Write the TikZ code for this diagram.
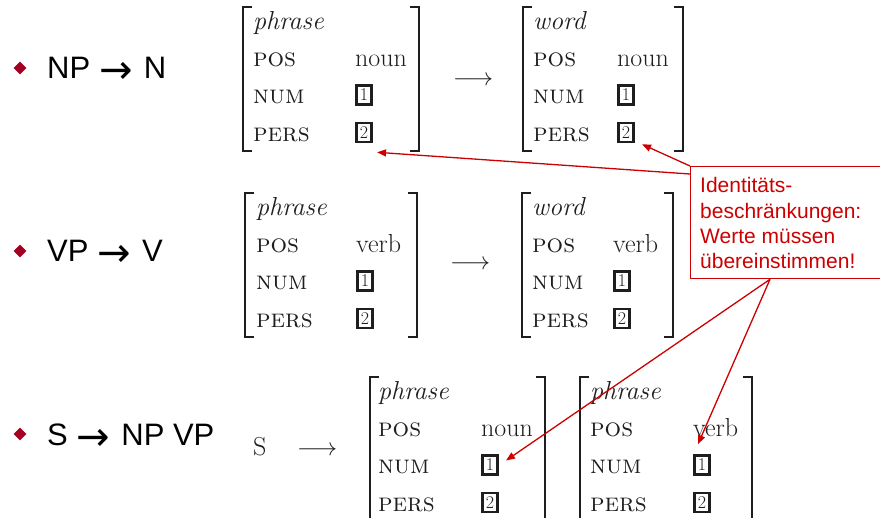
\documentclass[tikz,border=0pt]{standalone}
\usepackage{fontspec}
\newfontfamily\arialf{Liberation Sans}
\newfontfamily\dejavuf{DejaVu Sans}
\usetikzlibrary{arrows.meta,shapes.geometric}
\definecolor{bulred}{HTML}{A50021}
\definecolor{calred}{HTML}{CC0000}
\definecolor{brkgray}{HTML}{1E1E1E}
\newcommand{\avmat}[8]{%
 \draw[brk] (#2+9,#4) -- (#2,#4) -- (#2,#4+144) -- (#2+9,#4+144);
 \draw[brk] (#3-9,#4) -- (#3,#4) -- (#3,#4+144) -- (#3-9,#4+144);
 \node[avmt] (#1-type) at (#5,#4+22) {\itshape #7};
 \node[avmt] (#1-pos) at (#5,#4+59.5) {\scshape pos};
 \node[avmt] (#1-posv) at (#6,#4+59.5) {#8};
 \node[avmt] (#1-num) at (#5,#4+96.5) {\scshape num};
 \node[numbox] (#1-b1) at (#6+9,#4+96.5-8.5) {1};
 \node[avmt] (#1-pers) at (#5,#4+134) {\scshape pers};
 \node[numbox] (#1-b2) at (#6+9,#4+134-8.5) {2};
}
\newcommand{\rarr}{\hspace{9pt}\raisebox{-5pt}{\dejavuf\fontsize{40}{40}\selectfont →}\hspace{11pt}}
\begin{document}
\begin{tikzpicture}[x=1pt,y=-1pt,
  brk/.style={draw=brkgray,line width=2.3pt},
  avmt/.style={anchor=base west,inner sep=0pt,text=brkgray,font=\fontsize{26}{30}\selectfont},
  numbox/.style={draw=brkgray,text=brkgray,line width=2.6pt,minimum width=15.5pt,minimum height=19pt,inner sep=0pt,font=\fontsize{18}{20}\selectfont},
  bul/.style={diamond,fill=bulred,minimum size=13pt,inner sep=0pt},
  bultext/.style={anchor=base west,inner sep=0pt,font=\arialf\fontsize{31}{36}\selectfont},
  marr/.style={anchor=base west,inner sep=0pt,text=brkgray,font=\fontsize{26}{30}\selectfont},
  callbox/.style={draw=calred,fill=white,line width=1.3pt,minimum width=230pt,minimum height=112pt,inner sep=0pt,anchor=north west},
  calltext/.style={anchor=north west,inner sep=0pt,align=left,text=calred,font=\arialf\fontsize{21}{25.3}\selectfont},
  callarrow/.style={draw=calred,line width=1.3pt,-{Triangle[length=9pt,width=7pt]}},
  callline/.style={draw=calred,line width=1.3pt}]
\useasboundingbox (0,0) rectangle (880,517);
% bullets
\node[bul] (d1) at (20,68) {};
\node[bultext] (t1) at (47,78) {NP\rarr N};
\node[bul] (d2) at (20,251) {};
\node[bultext] (t2) at (47,261) {VP\rarr V};
\node[bul] (d3) at (20,434) {};
\node[bultext] (t3) at (47,445) {S\rarr NP VP};
% row 1
\avmat{m1}{243}{419}{7}{253}{355}{phrase}{noun}
\node[marr] (a1) at (453,85.5) {$\longrightarrow$};
\avmat{m2}{523}{683}{7}{533}{617}{word}{noun}
% row 2
\avmat{m3}{245}{417}{193}{256}{356}{phrase}{verb}
\node[marr] (a2) at (450,269.5) {$\longrightarrow$};
\avmat{m4}{522}{673}{193}{532}{613}{word}{verb}
% row 3
\node[marr] (s) at (253,455) {S};
\node[marr] (a3) at (297,455.5) {$\longrightarrow$};
\avmat{m5}{370}{545}{377}{378}{481}{phrase}{noun}
\avmat{m6}{580}{752}{377}{590}{693}{phrase}{verb}
% callout
\node[callbox] (call) at (690,166) {};
\node[calltext] (calltxt) at (700,177.5) {Identitäts-\\beschränkungen:\\Werte müssen\\übereinstimmen!};
\draw[callarrow] (call.north west) -- ([shift={(7,1)}]m2-b2.south east);
\draw[callarrow] ([shift={(0,8)}]call.north west) -- ([shift={(4,9)}]m1-b2.south east);
\draw[callarrow] ([shift={(80,0)}]call.south west) -- ([shift={(7,-4.5)}]m5-b1.east);
\draw[callarrow] ([shift={(80,0)}]call.south west) -- ([shift={(5,-10)}]m6-b1.north west);
\end{tikzpicture}
\end{document}
